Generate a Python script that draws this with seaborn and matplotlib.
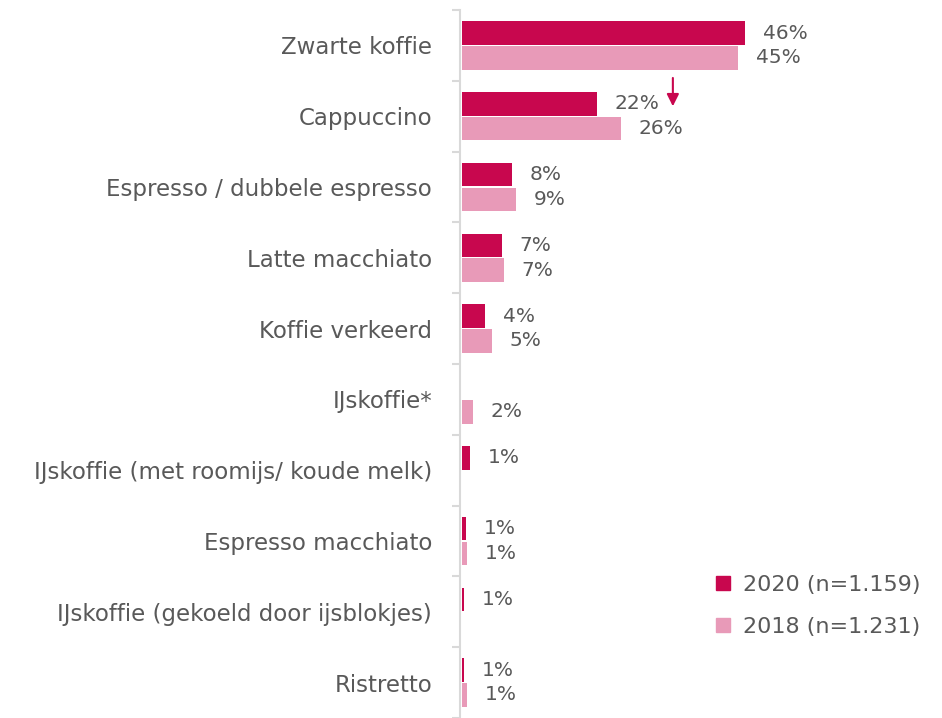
import matplotlib
matplotlib.use("Agg")
import matplotlib.pyplot as plt
from matplotlib.lines import Line2D
import numpy as np
import pandas as pd
import seaborn as sns

categories = ["Zwarte koffie", "Cappuccino", "Espresso / dubbele espresso",
              "Latte macchiato", "Koffie verkeerd", "IJskoffie*",
              "IJskoffie (met roomijs/ koude melk)", "Espresso macchiato",
              "IJskoffie (gekoeld door ijsblokjes)", "Ristretto"]
vals_2020 = [45.9, 21.9, 8.1, 6.5, 3.7, np.nan, 1.3, 0.7, 0.4, 0.4]
vals_2018 = [44.7, 25.8, 8.8, 6.8, 4.9, 1.8, np.nan, 0.8, np.nan, 0.8]
labels_2020 = ["46%", "22%", "8%", "7%", "4%", "", "1%", "1%", "1%", "1%"]
labels_2018 = ["45%", "26%", "9%", "7%", "5%", "2%", "", "1%", "", "1%"]
series = ["2020 (n=1.159)", "2018 (n=1.231)"]

dark = "#C8074E"
light = "#E89AB8"
grey = "#595959"

df = pd.DataFrame({
    "categorie": categories * 2,
    "waarde": vals_2020 + vals_2018,
    "jaar": [series[0]] * len(categories) + [series[1]] * len(categories),
}).dropna()

sns.set_style("white")
plt.rcParams["font.family"] = ["DejaVu Sans"]

scale = 6.17  # px per percent
x0 = -0.3     # spine position, just left of the bars
fig = plt.figure(figsize=(9.42, 7.18), dpi=100)
ax = fig.add_axes([460 / 942, 0.0, 482 / 942, 708 / 718])

sns.barplot(data=df, y="categorie", x="waarde", hue="jaar", order=categories,
            hue_order=series, palette=[dark, light], saturation=1, orient="h",
            width=0.7, gap=0.05, errorbar=None, linewidth=0, ax=ax,
            legend=False)

for side in ["top", "right", "bottom"]:
    ax.spines[side].set_visible(False)
ax.spines["left"].set_position(("data", x0))
ax.spines["left"].set_color("#D9D9D9")
ax.spines["left"].set_linewidth(1.5)

ax.set_xlim(x0, x0 + 482 / scale)
ax.set_ylim(9.44, -0.5)
ax.set_xlabel("")
ax.set_ylabel("")
ax.set_xticks([])

# category labels + group separator ticks
ax.set_yticks(range(len(categories)))
ax.set_yticklabels(categories, fontsize=16.5, color=grey)
ax.set_yticks(np.arange(-0.5, len(categories), 1), minor=True)
ax.tick_params(axis="y", which="major", length=0, pad=20)
ax.tick_params(axis="y", which="minor", length=6, width=1.5, color="#D9D9D9",
               left=True)

# value labels
off = 2.9
for i in range(len(categories)):
    if labels_2020[i]:
        ax.text(vals_2020[i] + off, i - 0.175, labels_2020[i], va="center",
                ha="left", fontsize=14.5, color=grey)
    if labels_2018[i]:
        ax.text(vals_2018[i] + off, i + 0.175, labels_2018[i], va="center",
                ha="left", fontsize=14.5, color=grey)

# significant decrease arrow
ax.annotate("", xy=(34.2, 0.86), xytext=(34.2, 0.46),
            arrowprops=dict(arrowstyle="-|>", color=dark, lw=1.5,
                            mutation_scale=18, shrinkA=0, shrinkB=0))

handles = [Line2D([], [], marker="s", linestyle="", markersize=10,
                  markerfacecolor=c, markeredgecolor=c) for c in (dark, light)]
leg = fig.legend(handles, series, loc="center left",
                 bbox_to_anchor=(714 / 942, 1 - 606 / 718), frameon=False,
                 fontsize=16, handlelength=0.8, handletextpad=0.5,
                 labelspacing=1.0, borderaxespad=0, borderpad=0)
for t in leg.get_texts():
    t.set_color(grey)

fig.savefig("out.png", dpi=100)
